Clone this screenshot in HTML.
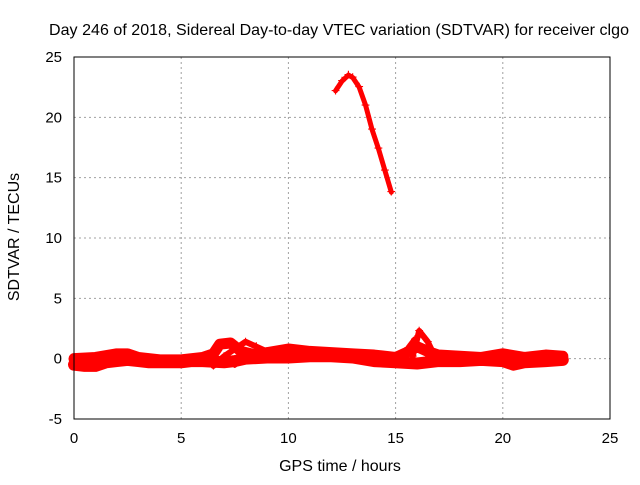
<!DOCTYPE html>
<html><head><meta charset="utf-8"><style>
body{margin:0;background:#fff}
svg text{font-family:"Liberation Sans",sans-serif;font-size:14px;fill:#000}
</style></head><body>
<svg id="c" width="640" height="480"></svg>
<script>
const xTicks=[0,5,10,15,20,25];
const yTicks=[-5,0,5,10,15,20,25];
const arcSeries=[[12.2,22.2],[12.5,23.0],[12.8,23.5],[13.0,23.3],[13.3,22.5],[13.6,21.0],[13.9,19.0],[14.2,17.4],[14.5,15.6],[14.8,13.8]];
const lowSeries=[[0,-0.5],[0.5,-0.6],[1,-0.6],[1.5,-0.3],[2,-0.2],[2.5,-0.1],[3,-0.2],[3.5,-0.3],[4,-0.3],[4.5,-0.3],[5,-0.3],[5.5,-0.2],[6,-0.2],[7,-0.3],[7.5,-0.2],[8,0],[9,0.1],[10,0.1],[11,0.2],[12,0.2],[13,0.1],[14,-0.2],[15,-0.3],[16,-0.4],[17,-0.2],[18,-0.2],[19,-0.1],[20,-0.2],[20.5,-0.5],[21,-0.3],[22,-0.2],[22.8,-0.1]];
const highSeries=[[0,0],[1,0.1],[2,0.4],[2.5,0.4],[3,0.1],[4,-0.1],[5,-0.1],[6,0.1],[6.5,0.4],[6.8,1.2],[7.3,1.3],[7.8,0.6],[8.5,0.3],[9,0.5],[10,0.8],[11,0.6],[12,0.5],[13,0.4],[14,0.3],[15,0.1],[15.5,0.5],[16,1.0],[16.5,0.6],[17,0.3],[18,0.2],[19,0.1],[20,0.4],[21,0.1],[22,0.3],[22.8,0.2]];
const loopSeries=[[6.5,-0.6],[7,0.2],[7.5,0.8],[8,1.4],[8.5,1.0],[9,0.6],[9.5,0.3]];
const loop2Series=[[7.5,-0.5],[8,0.3],[8.5,0.6],[9,0.3]];
const spikeSeries=[[15.8,0.2],[16.1,2.3],[16.5,1.4],[16.8,0.3]];
const spike2Series=[[15.2,-0.5],[15.6,0.9],[15.9,1.6]];
const X0=74,X1=610,Y0=419,Y1=57;
const sx=v=>X0+(v-0)/(25-0)*(X1-X0);
const sy=v=>Y0-(v+5)/(30)*(Y0-Y1);
const svg=document.getElementById('c');const NS='http://www.w3.org/2000/svg';
function mk(t,a,p){const e=document.createElementNS(NS,t);for(const k in a)e.setAttribute(k,a[k]);(p||svg).appendChild(e);return e;}
xTicks.forEach(t=>{const x=sx(t);
const g=mk('line',{x1:x,x2:x,y1:Y1,y2:Y0,stroke:'#a0a0a0','stroke-dasharray':'2,3'});


const l=mk('text',{x:x,y:443,'text-anchor':'middle',style:'font-size:15px'});l.textContent=t;

});
yTicks.forEach(t=>{const y=sy(t);
const g=mk('line',{x1:X0,x2:X1,y1:y,y2:y,stroke:'#a0a0a0','stroke-dasharray':'2,3'});


const l=mk('text',{x:62,y:y+5,'text-anchor':'end',style:'font-size:15px'});l.textContent=t;

});
function band(data,w,name){
const p=mk('polyline',{points:data.map(d=>sx(d[0])+','+sy(d[1])).join(' '),fill:'none',stroke:'#ff0000','stroke-width':w,'stroke-linejoin':'round','stroke-linecap':'round'});


data.forEach(d=>{const m=mk('text',{x:sx(d[0]),y:sy(d[1])+5,'text-anchor':'middle',style:'fill:#f00;font-size:16px'});m.textContent='+';

});
}
band(lowSeries,12,'series-low-band');
band(highSeries,11,'series-high-band');
band(loopSeries,6,'series-loop');
band(loop2Series,6,'series-loop-2');
band(spikeSeries,6,'series-spike');
band(spike2Series,6,'series-spike-2');
band(arcSeries,5,'series-arc');
const b=mk('rect',{x:X0,y:Y1,width:X1-X0,height:Y0-Y1,fill:'none',stroke:'#000'});


</script>
<div style="position:absolute;left:0;top:0;width:640px;height:480px;pointer-events:none">
<svg width="640" height="480" style="position:absolute;left:0;top:0">
<text x="339" y="35" text-anchor="middle" style="font-size:16px" textLength="580">Day 246 of 2018, Sidereal Day-to-day VTEC variation (SDTVAR) for receiver clgo</text>
<text x="340" y="471" text-anchor="middle" style="font-size:16px">GPS time / hours</text>
<text x="0" y="0" transform="translate(19,237) rotate(-90)" text-anchor="middle" style="font-size:16px">SDTVAR / TECUs</text>
</svg></div>
</body></html>
